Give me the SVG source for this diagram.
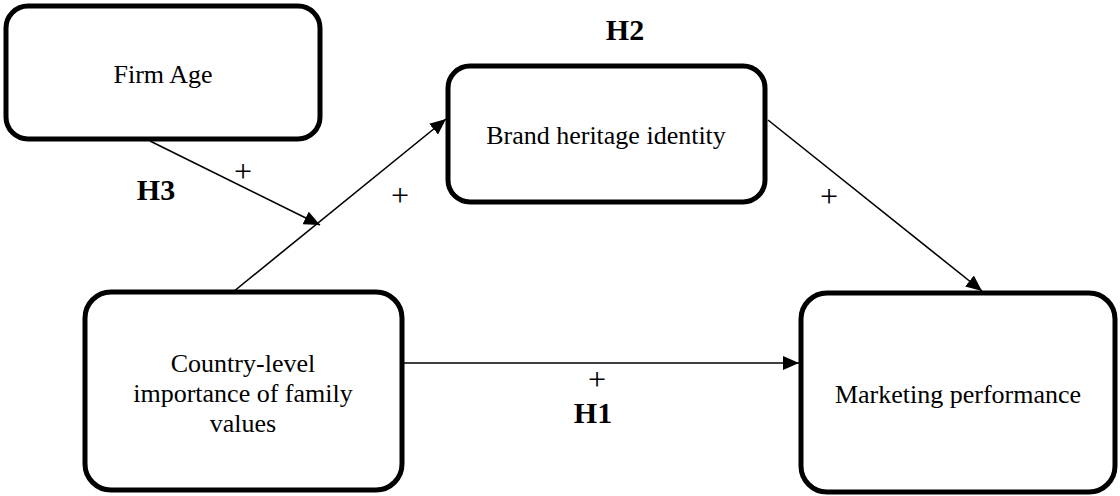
<svg xmlns="http://www.w3.org/2000/svg" width="1120" height="496" viewBox="0 0 1120 496">
<style>
.box{fill:#fff;stroke:#000;stroke-width:5}
.lbl{font-family:"Liberation Serif","Times New Roman",serif;font-size:26px;fill:#000;text-anchor:middle}
.h{font-family:"Liberation Serif","Times New Roman",serif;font-size:30px;font-weight:bold;fill:#000;text-anchor:middle}
.plus{font-family:"Liberation Serif","Times New Roman",serif;font-size:32px;fill:#000;text-anchor:middle}
.con{stroke:#000;stroke-width:1.6;fill:none;marker-end:url(#ah)}
</style>
<defs>
<marker id="ah" markerUnits="userSpaceOnUse" markerWidth="16" markerHeight="14" refX="16" refY="7" orient="auto">
<path d="M0,0 L16,7 L0,14 Z" fill="#000"/>
</marker>
</defs>
<rect width="1120" height="496" fill="#fff"/>
<g id="connectors">
<line class="con" x1="150" y1="141" x2="320" y2="225"/>
<line class="con" x1="233" y1="292" x2="446" y2="119"/>
<line class="con" x1="768" y1="120" x2="982" y2="291"/>
<line class="con" x1="402" y1="363" x2="799" y2="363"/>
</g>
<g id="firm-age">
<rect class="box" x="6" y="6" width="314" height="133" rx="22"/>
<text class="lbl" x="163" y="83">Firm Age</text>
</g>
<g id="brand-heritage">
<rect class="box" x="448" y="66" width="317" height="136" rx="22"/>
<text class="lbl" x="606" y="144">Brand heritage identity</text>
</g>
<g id="country-level">
<rect class="box" x="85" y="292" width="317" height="198" rx="26"/>
<text class="lbl" x="243" y="372">Country-level</text>
<text class="lbl" x="243" y="402">importance of family</text>
<text class="lbl" x="243" y="432">values</text>
</g>
<g id="marketing-performance">
<rect class="box" x="801" y="293" width="314" height="199" rx="26"/>
<text class="lbl" x="958" y="403">Marketing performance</text>
</g>
<g id="labels">
<text class="h" x="625" y="40">H2</text>
<text class="h" x="156" y="200">H3</text>
<text class="h" x="593" y="423">H1</text>
<text class="plus" x="243" y="182">+</text>
<text class="plus" x="400" y="206">+</text>
<text class="plus" x="829" y="207">+</text>
<text class="plus" x="597" y="390">+</text>
</g>
</svg>
